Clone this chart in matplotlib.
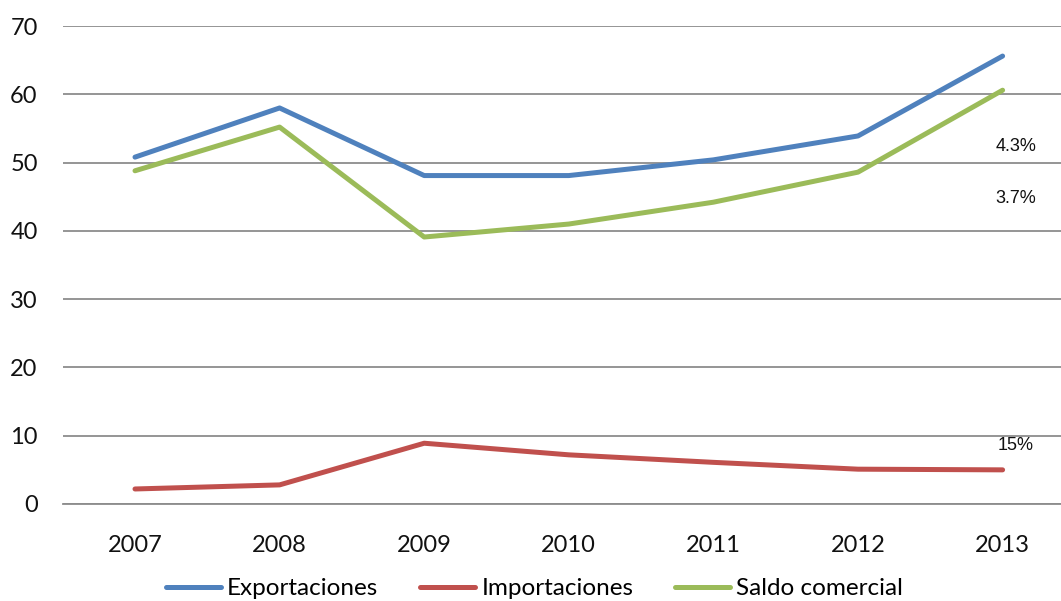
import matplotlib.pyplot as plt

years = ["2007", "2008", "2009", "2010", "2011", "2012", "2013"]
exportaciones = [50.8, 58.0, 48.1, 48.1, 50.4, 53.9, 65.6]
importaciones = [2.2, 2.8, 8.9, 7.2, 6.1, 5.1, 5.0]
saldo_comercial = [48.8, 55.2, 39.1, 41.0, 44.2, 48.6, 60.6]
notes = ["4.3%", "3.7%", "15%"]
note_y = [52.3, 44.8, 8.6]

plt.rcParams["font.family"] = ["Lato", "DejaVu Sans"]

fig = plt.figure(figsize=(10.61, 6.01), dpi=100)
ax = fig.add_axes([0.0591, 0.1614, 0.954, 0.7953])

x = range(len(years))
ax.plot(x, exportaciones, color="#4F81BD", lw=3.6, solid_capstyle="round", label="Exportaciones")
ax.plot(x, importaciones, color="#C0504D", lw=3.6, solid_capstyle="round", label="Importaciones")
ax.plot(x, saldo_comercial, color="#9BBB59", lw=3.6, solid_capstyle="round", label="Saldo comercial")

for txt, yv in zip(notes, note_y):
    ax.text(6.09, yv, txt, ha="center", va="center", fontsize=13,
            family="Liberation Sans", color="#111111")

ax.set_xlim(-0.5, 6.5)
ax.set_ylim(0, 70)
ax.set_yticks(range(0, 71, 10))
ax.set_xticks(list(x))
ax.set_xticklabels(years)
ax.yaxis.grid(True, color="#8c8c8c", lw=1.3)
ax.set_axisbelow(True)
for s in ["top", "right", "left"]:
    ax.spines[s].set_visible(False)
ax.spines["bottom"].set_color("#8c8c8c")
ax.spines["bottom"].set_linewidth(1.3)
ax.tick_params(axis="both", length=0, labelsize=17, colors="#111111")
ax.tick_params(axis="y", pad=18)
ax.tick_params(axis="x", pad=22)

fig.legend(loc="center", bbox_to_anchor=(0.504, 0.02), ncol=3, frameon=False,
           fontsize=17.5, handlelength=2.26, handletextpad=0.25, columnspacing=1.73)

fig.savefig("out.png", dpi=100)
